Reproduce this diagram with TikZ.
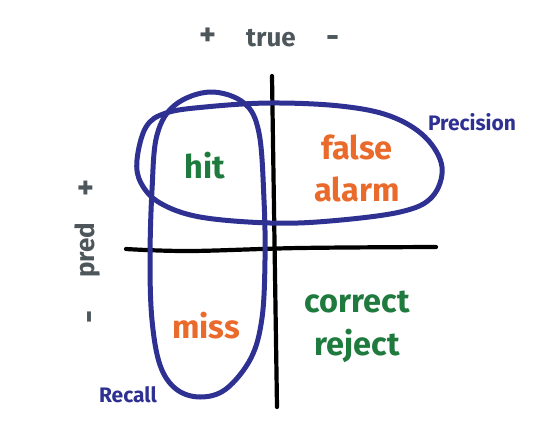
\documentclass[tikz,border=0pt]{standalone}
\usepackage{fontspec}
\setmainfont{Fira Sans}
\usepackage{tikz}
\definecolor{axisgray}{HTML}{4D565A}
\definecolor{cellgreen}{HTML}{1F7A3E}
\definecolor{cellorange}{HTML}{EA6A2C}
\definecolor{loopblue}{HTML}{2E3192}
\tikzset{
    axis label/.style={text=axisgray,font=\bfseries\fontsize{26}{30}\selectfont,inner sep=0pt},
    axis sign/.style={text=axisgray,font=\bfseries\fontsize{32}{34}\selectfont,inner sep=0pt},
    cell good/.style={text=cellgreen,align=center,font=\bfseries\fontsize{32.5}{43}\selectfont,inner sep=0pt},
    cell bad/.style={text=cellorange,align=center,font=\bfseries\fontsize{32.5}{42}\selectfont,inner sep=0pt},
    loop label/.style={text=loopblue,font=\bfseries\fontsize{21}{23}\selectfont,inner sep=0pt},
    hand line/.style={draw=black,line width=4.2pt,line cap=round},
    loop line/.style={draw=loopblue,line width=5pt,line cap=round,line join=round},
}

\begin{document}
\begin{tikzpicture}[x=1pt,y=-1pt]
\useasboundingbox (0,0) rectangle (540,444);

% the two axes of the table
\draw [hand line] plot [smooth,tension=0.6] coordinates {(126,249) (190,251) (300,248) (436,247)};
\draw [hand line] (272,76) -- (277,407);

% axis labels
\node [axis sign] (tplus) at (208,37) {+};
\node [axis label] (true) at (271,38) {true};
\node [axis sign] (tminus) at (333,42) {-};
\node [axis sign,rotate=90] (pplus) at (88,188) {+};
\node [axis label,rotate=90] (pred) at (88,250) {pred};
\node [axis sign,rotate=90] (pminus) at (94,317) {-};

% the four cells
\node [cell good] (hit) at (205,166) {hit};
\node [cell bad] (falsealarm) at (357,168) {false\\alarm};
\node [cell bad] (miss) at (206,326) {miss};
\node [cell good] (correctreject) at (357,327) {correct\\reject};

% precision and recall loops
\draw [loop line] plot [smooth cycle,tension=0.6] coordinates {
  (137,160) (146,127) (166,113) (205,107) (270,103) (340,106) (390,116)
  (425,137) (442,167) (432,197) (400,212) (330,221) (270,223) (200,217)
  (160,203) (141,183)};
\draw [loop line] plot [smooth cycle,tension=0.6] coordinates {
  (210,92) (244,103) (259,133) (264,200) (265,260) (262,318) (251,358)
  (226,389) (200,397) (176,389) (160,365) (152,320) (150,260) (152,190)
  (157,135) (175,105)};
\node [loop label] (precision) at (472,122) {Precision};
\node [loop label] (recall) at (128,395) {Recall};

\end{tikzpicture}
\end{document}
